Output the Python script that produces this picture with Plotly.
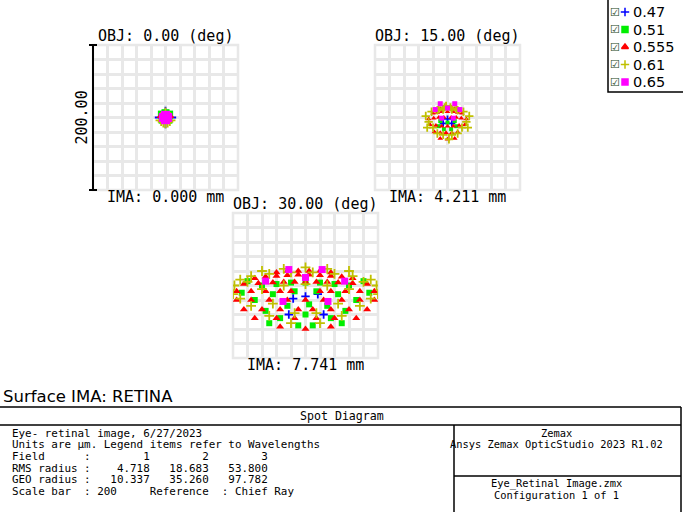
import plotly.graph_objects as go

W, H = 683, 512

wavelengths = ['0.47', '0.51', '0.555', '0.61', '0.65']
wl_colors = ['#0000ff', '#00ee00', '#ff0000', '#c0c000', '#ff00ff']
wl_symbols = ['cross-thin', 'square', 'triangle-up', 'cross-thin', 'square']
field_titles = ['OBJ: 0.00 (deg)', 'OBJ: 15.00 (deg)', 'OBJ: 30.00 (deg)']
ima_labels = ['IMA: 0.000 mm', 'IMA: 4.211 mm', 'IMA: 7.741 mm']

# spot coordinates in micrometres relative to chief ray, per field, per wavelength
f1_x = [[-7, 7, 0, 0], [-5, 5, 0, -4, 4], [-6, 6, 0, 0], [-6, 6, -3, 3, 0, 0], [-3, 3, 0, 0, 0]]
f1_y = [[0, 0, 7, -7], [4, 4, 6, -3, -3], [2, 2, 5, -6], [-4, -4, -6, -6, 6, -7], [0, 0, 3, -3, 0]]

f2_x = [[0, 6, -6],
        [-10, 0, 10, -5, 5, -12, 12],
        [-10, -5, 0, 5, 10, -20, -14, -8, 0, 8, 14, 20, -26, -19, -12, -5, 5, 12, 19, 26,
         -24, -16, -8, 0, 8, 16, 24, -18, -10, -2, 6, 14, -10, 0, 10],
        [-12, -4, 4, 12, -22, -14, -6, 6, 14, 22, -30, -26, 26, 30, -28, -20, 20, 28, -14, -6, 6, 14, -2, 2],
        [-10, 10, 0, -17, 17, -8, 8]]
f2_y = [[-2, -8, -8],
        [-5, -7, -5, -16, -16, -12, -12],
        [12, 14, 14, 14, 12, 6, 7, 8, 8, 8, 7, 6, -2, -1, 0, 0, 0, 0, -1, -2,
         -10, -11, -12, -12, -12, -11, -10, -20, -21, -21, -21, -20, -29, -30, -29],
        [12, 14, 14, 12, 8, 10, 11, 11, 10, 8, 2, -6, -6, 2, -14, -14, -14, -14, -22, -24, -24, -22, 16, -30],
        [19, 19, 13, 11, 11, -1, -1]]

f3_x = [[0, 17, -17, -23, 25],
        [-80, -60, -40, -20, 0, 20, 40, 60, 80, -70, -45, -15, 15, 45, 70, -55, -25, 5, 30, 55,
         -35, 0, 35, -88, 88, -50, 50, -10, 10],
        [-40, -25, -10, 5, 20, 35, -70, -55, -40, -25, -10, 5, 20, 35, 50, 65,
         -85, -65, -45, -30, -15, 0, 15, 30, 45, 65, 85, -95, -75, -55, -35, -20, 20, 35, 55, 75, 95,
         -95, -75, -50, -25, 0, 25, 50, 75, 95, -85, -60, -35, -10, 10, 35, 60, 85,
         -70, -40, -15, 15, 40, 70, -35, 0, 35],
        [-60, -30, 0, 30, 60, -90, -75, -50, -20, 10, 40, 65, 90, -98, -80, 80, 98, -100, 100,
         -90, -60, -30, 0, 30, 60, 90, -75, -45, 45, 75, -50, -15, 15, 50, -20, 20],
        [-23, 23, 0, -55, 54, -31, 31]]
f3_y = [[-15, -12, -18, -40, -40],
        [6, 0, 2, 4, 4, 4, 2, 0, 6, -20, -12, -8, -8, -12, -20, -35, -28, -26, -28, -35,
         -45, -40, -45, -10, -10, -52, -52, -55, -55],
        [18, 20, 20, 20, 20, 18, 10, 12, 13, 14, 15, 15, 14, 13, 12, 10,
         2, 3, 4, 5, 5, 5, 5, 5, 4, 3, 2, -8, -8, -8, -8, -8, -8, -8, -8, -8, -8,
         -20, -20, -20, -20, -20, -20, -20, -20, -20, -33, -33, -33, -33, -33, -33, -33, -33,
         -45, -45, -45, -45, -45, -45, -57, -60, -57],
        [20, 23, 25, 23, 20, 8, 13, 16, 18, 18, 16, 13, 8, 0, 5, 5, 0, -12, -12,
         -18, -5, 0, 2, 0, -5, -18, -28, -25, -25, -28, -42, -38, -38, -42, -52, -52],
        [22, 22, 11, 6, 6, -22, -22]]

fields_x = [f1_x, f2_x, f3_x]
fields_y = [f1_y, f2_y, f3_y]

# panel boxes in pixels: left, top, size
boxes = [(93, 45), (375, 45), (233, 213)]
BOX = 145
marker_sizes = [[8, 8, 8, 8, 9], [5, 4, 5, 6, 5], [6, 6, 7, 7, 7]]


def px(x):
    return x / W


def py(y):
    return 1 - y / H


fig = go.Figure()
layout = {}
annotations = []
shapes = []
font = 'DejaVu Sans Mono'
grid = '#e8e8e8'

for i, (bx, by) in enumerate(boxes):
    sfx = '' if i == 0 else str(i + 1)
    layout['xaxis' + sfx] = dict(domain=[px(bx), px(bx + BOX)], range=[-100, 100], dtick=20, tick0=-100,
                                 showgrid=True, gridcolor=grid, gridwidth=2.5, zeroline=False,
                                 showticklabels=False, ticks='', anchor='y' + sfx, fixedrange=True)
    layout['yaxis' + sfx] = dict(domain=[py(by + BOX), py(by)], range=[-100, 100], dtick=20, tick0=-100,
                                 showgrid=True, gridcolor=grid, gridwidth=2.5, zeroline=False,
                                 showticklabels=False, ticks='', anchor='x' + sfx, fixedrange=True)
    shapes.append(dict(type='rect', xref='paper', yref='paper', x0=px(bx), x1=px(bx + BOX), y0=py(by + BOX),
                       y1=py(by), line=dict(color=grid, width=2.5), layer='below'))
    for w in range(5):
        sym = wl_symbols[w]
        fig.add_trace(go.Scatter(x=fields_x[i][w], y=fields_y[i][w], mode='markers',
                                 xaxis='x' + sfx, yaxis='y' + sfx, showlegend=False,
                                 marker=dict(symbol=sym, size=marker_sizes[i][w], color=wl_colors[w],
                                             line=dict(color=wl_colors[w], width=1.8 if 'cross' in sym else 0))))
    annotations.append(dict(x=px(bx + BOX / 2), y=py(by + 2), xref='paper', yref='paper', text=field_titles[i],
                            showarrow=False, xanchor='center', yanchor='bottom',
                            font=dict(family=font, size=15, color='black')))
    annotations.append(dict(x=px(bx + BOX / 2), y=py(by + BOX - 4), xref='paper', yref='paper', text=ima_labels[i],
                            showarrow=False, xanchor='center', yanchor='top',
                            font=dict(family=font, size=15, color='black')))

# scale bar on first panel
bx, by = boxes[0]
shapes.append(dict(type='line', xref='paper', yref='paper', x0=px(bx), x1=px(bx), y0=py(by), y1=py(by + BOX),
                   line=dict(color='black', width=2)))
for yy in (by, by + BOX):
    shapes.append(dict(type='line', xref='paper', yref='paper', x0=px(bx - 4), x1=px(bx + 4), y0=py(yy), y1=py(yy),
                       line=dict(color='black', width=2)))
annotations.append(dict(x=px(bx - 1), y=py(by + BOX / 2), xref='paper', yref='paper', text='200.00',
                        textangle=-90, showarrow=False, xanchor='right', yanchor='middle',
                        font=dict(family=font, size=15, color='black')))

# legend box
shapes.append(dict(type='rect', xref='paper', yref='paper', x0=px(608), x1=px(690), y0=py(92), y1=py(-5),
                   line=dict(color='black', width=1.5)))
leg_y = [12 + w * 17.5 for w in range(5)]
for w in range(5):
    annotations.append(dict(x=px(615), y=py(leg_y[w]), xref='paper', yref='paper', text='\u2611', showarrow=False,
                            xanchor='center', yanchor='middle', font=dict(family='DejaVu Sans', size=11, color='#224422')))
    annotations.append(dict(x=px(631), y=py(leg_y[w]), xref='paper', yref='paper', text=wavelengths[w], showarrow=False,
                            xanchor='left', yanchor='middle', font=dict(family='DejaVu Sans', size=14.5, color='black')))
fig.add_trace(go.Scatter(x=[0.5] * 5, y=leg_y, xaxis='x4', yaxis='y4', mode='markers', showlegend=False,
                         marker=dict(symbol=wl_symbols, size=6, color=wl_colors,
                                     line=dict(color=wl_colors, width=1.5))))
layout['xaxis4'] = dict(domain=[px(620), px(630)], range=[0, 1], visible=False, anchor='y4', fixedrange=True)
layout['yaxis4'] = dict(domain=[py(92), py(0)], range=[92, 0], visible=False, anchor='x4', fixedrange=True)

# bottom info table
annotations.append(dict(x=px(1), y=py(408), xref='paper', yref='paper', text='Surface IMA: RETINA', showarrow=False,
                        xanchor='left', yanchor='bottom', font=dict(family='DejaVu Sans', size=16.5, color='black')))
for (x0, y0, x1, y1) in [(0, 407, 681, 407), (0, 425, 681, 425), (681, 407, 681, 512), (454, 425, 454, 512),
                         (454, 476, 681, 476)]:
    shapes.append(dict(type='line', xref='paper', yref='paper', x0=px(x0), x1=px(x1), y0=py(y0), y1=py(y1),
                       line=dict(color='black', width=1.5)))
annotations.append(dict(x=px(342), y=py(416), xref='paper', yref='paper', text='Spot Diagram', showarrow=False,
                        xanchor='center', yanchor='middle', font=dict(family=font, size=11.6, color='black')))
info_lines = ['Eye- retinal image, 6/27/2023',
              'Units are \u03bcm. Legend items refer to Wavelengths',
              'Field      :        1        2        3',
              'RMS radius :    4.718   18.683   53.800',
              'GEO radius :   10.337   35.260   97.782',
              'Scale bar  : 200     Reference  : Chief Ray']
for k, line in enumerate(info_lines):
    annotations.append(dict(x=px(10), y=py(433 + k * 11.7), xref='paper', yref='paper',
                            text=line.replace(' ', '&nbsp;'), showarrow=False, xanchor='left', yanchor='middle',
                            font=dict(family=font, size=10.9, color='black')))
for txt, yy in [('Zemax', 433), ('Ansys Zemax OpticStudio 2023 R1.02', 444),
                ('Eye_Retinal Image.zmx', 483), ('Configuration 1 of 1', 495)]:
    annotations.append(dict(x=px(556), y=py(yy), xref='paper', yref='paper', text=txt, showarrow=False,
                            xanchor='center', yanchor='middle', font=dict(family=font, size=10.4, color='black')))

fig.update_layout(width=W, height=H, margin=dict(l=0, r=0, t=0, b=0), paper_bgcolor='white',
                  plot_bgcolor='white', annotations=annotations, shapes=shapes, showlegend=False, **layout)
fig.write_html("out.html", config={'displayModeBar': False},
               post_script="document.body.style.margin='0';")
